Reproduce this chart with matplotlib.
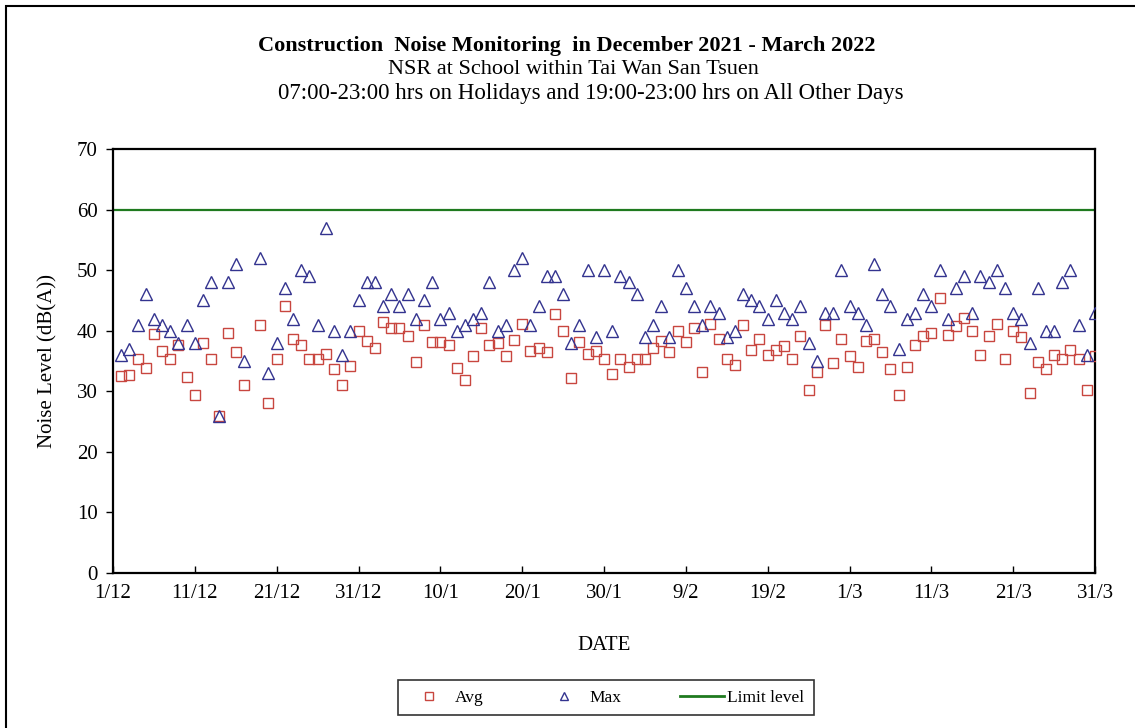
import numpy as np
import pandas as pd
import matplotlib
matplotlib.use('Agg')
import matplotlib.pyplot as plt
from matplotlib.patches import Rectangle
from matplotlib.lines import Line2D

plt.rcParams['font.family'] = ['Liberation Serif', 'DejaVu Serif']

# monitoring days 2/12/2021 - 31/3/2022 (no record on 18/12)
dates = pd.date_range('2021-12-02', '2022-03-31')
dates = dates[dates != pd.Timestamp('2021-12-18')]

avg = [32.5, 32.7, 35.4, 33.8, 39.5, 36.7, 35.3, 37.7, 32.3, 29.4,
       37.9, 35.4, 26.0, 39.7, 36.5, 31.0, 40.9, 28.0, 35.4, 44.1,
       38.7, 37.7, 35.4, 35.3, 36.2, 33.6, 31.0, 34.2, 40.0, 38.3,
       37.2, 41.4, 40.4, 40.4, 39.2, 34.9, 40.9, 38.1, 38.1, 37.7,
       33.8, 31.8, 35.8, 40.4, 37.7, 37.9, 35.8, 38.5, 41.1, 36.7,
       37.1, 36.5, 42.7, 39.9, 32.2, 38.1, 36.1, 36.7, 35.3, 32.9,
       35.3, 34.0, 35.4, 35.4, 37.1, 38.3, 36.5, 39.9, 38.1, 40.4,
       33.2, 41.1, 38.7, 35.4, 34.4, 40.9, 36.8, 38.7, 36.0, 36.8,
       37.4, 35.3, 39.1, 30.2, 33.2, 40.9, 34.6, 38.7, 35.8, 34.0,
       38.3, 38.7, 36.5, 33.6, 29.4, 34.0, 37.7, 39.1, 39.7, 45.4,
       39.3, 40.7, 42.1, 39.9, 36.0, 39.1, 41.1, 35.3, 39.9, 38.9,
       29.7, 34.9, 33.6, 36.0, 35.4, 36.8, 35.3, 30.2, 35.8]

mx = [36, 37, 41, 46, 42, 41, 40, 38, 41, 38,
      45, 48, 26, 48, 51, 35, 52, 33, 38, 47,
      42, 50, 49, 41, 57, 40, 36, 40, 45, 48,
      48, 44, 46, 44, 46, 42, 45, 48, 42, 43,
      40, 41, 42, 43, 48, 40, 41, 50, 52, 41,
      44, 49, 49, 46, 38, 41, 50, 39, 50, 40,
      49, 48, 46, 39, 41, 44, 39, 50, 47, 44,
      41, 44, 43, 39, 40, 46, 45, 44, 42, 45,
      43, 42, 44, 38, 35, 43, 43, 50, 44, 43,
      41, 51, 46, 44, 37, 42, 43, 46, 44, 50,
      42, 47, 49, 43, 49, 48, 50, 47, 43, 42,
      38, 47, 40, 40, 48, 50, 41, 36, 43]

limit = 60
tick_dates = pd.to_datetime(['2021-12-01', '2021-12-11', '2021-12-21', '2021-12-31',
                             '2022-01-10', '2022-01-20', '2022-01-30', '2022-02-09',
                             '2022-02-19', '2022-03-01', '2022-03-11', '2022-03-21',
                             '2022-03-31'])
tick_labels = ['1/12', '11/12', '21/12', '31/12', '10/1', '20/1', '30/1',
               '9/2', '19/2', '1/3', '11/3', '21/3', '31/3']

red = '#c8463f'
blue = '#33338f'
green = '#1f7a1f'

fig = plt.figure(figsize=(11.35, 7.28), dpi=100)
ax = fig.add_axes([113/1135, 1 - 573/728, 982/1135, 424/728])

ax.axhline(limit, color=green, lw=1.6, zorder=1)
ax.plot(dates, avg, ls='none', marker='s', ms=6.8, mfc='none', mec=red,
        mew=1.0, zorder=3)
ax.plot(dates, mx, ls='none', marker='^', ms=8, mfc='none', mec=blue,
        mew=1.0, zorder=3)

ax.set_xlim(tick_dates[0], tick_dates[-1])
ax.set_ylim(0, 70)
ax.set_yticks(range(0, 71, 10))
ax.set_xticks(tick_dates)
ax.set_xticklabels(tick_labels)
ax.tick_params(axis='x', direction='in', length=5, width=1, labelsize=15, pad=8)
ax.tick_params(axis='y', direction='out', length=5, width=1, labelsize=15, pad=6)
for s in ax.spines.values():
    s.set_linewidth(1.6)

ax.set_ylabel('Noise Level (dB(A))', fontsize=15, labelpad=14)
ax.set_xlabel('DATE', fontsize=15, labelpad=24)

fig.text(567/1135, 1 - 46/728,
         'Construction  Noise Monitoring  in December 2021 - March 2022',
         ha='center', va='center', fontsize=16, fontweight='bold')
fig.text(573/1135, 1 - 70/728,
         'NSR at School within Tai Wan San Tsuen',
         ha='center', va='center', fontsize=16)
fig.text(591/1135, 1 - 94/728,
         '07:00-23:00 hrs on Holidays and 19:00-23:00 hrs on All Other Days',
         ha='center', va='center', fontsize=16.5)

handles = [Line2D([], [], ls='none', marker='s', ms=6, mfc='none', mec=red),
           Line2D([], [], ls='none', marker='^', ms=6, mfc='none', mec=blue),
           Line2D([], [], color=green, lw=2)]
leg = fig.legend(handles, ['Avg', 'Max', 'Limit level'], loc='center',
                 bbox_to_anchor=(606/1135, 1 - 697.5/728), ncol=3, fontsize=12.5,
                 frameon=True, fancybox=False, edgecolor='black',
                 handlelength=2.5, handletextpad=0.2, columnspacing=3.4,
                 borderpad=0.55)
leg.get_frame().set_linewidth(1.2)

fig.patches.append(Rectangle((6/1135, -0.05), 1.2, 1 - 6/728 + 0.05,
                             transform=fig.transFigure, fill=False,
                             edgecolor='black', lw=1.5))

fig.savefig('out.png', dpi=100)
